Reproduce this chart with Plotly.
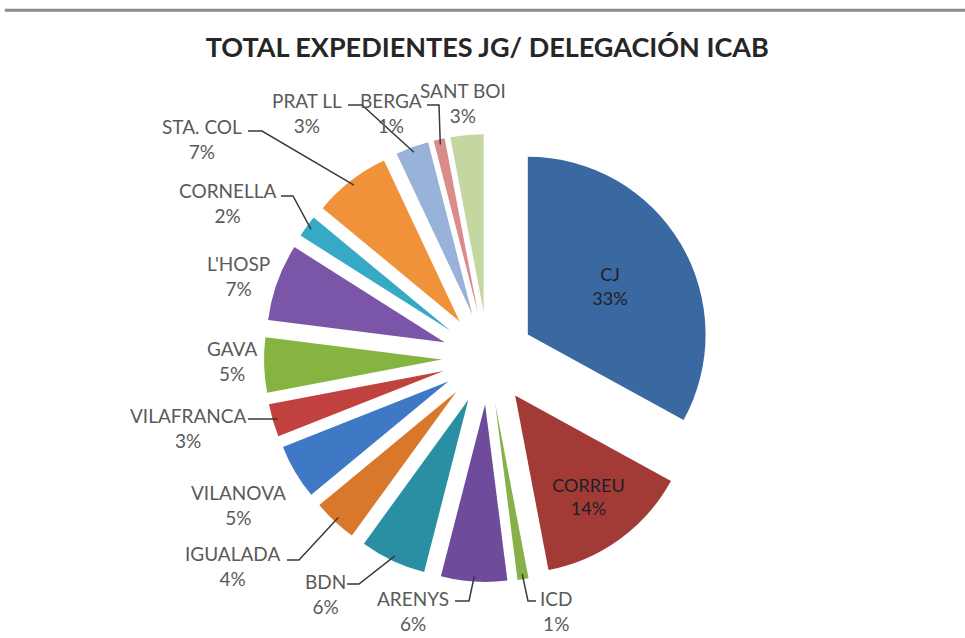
import math
import plotly.graph_objects as go

labels = ["CJ", "CORREU", "ICD", "ARENYS", "BDN", "IGUALADA", "VILANOVA",
          "VILAFRANCA", "GAVA", "L'HOSP", "CORNELLA", "STA. COL", "PRAT LL",
          "BERGA", "SANT BOI"]
values = [33, 14, 1, 6, 6, 4, 5, 3, 5, 7, 2, 7, 3, 1, 3]
colors = ["#3A68A0", "#A23B35", "#86B04A", "#6F4C9B", "#2B8FA3", "#D9782B",
          "#3F78C4", "#C0413D", "#86B441", "#7B55A7", "#36A9C4", "#F0923A",
          "#98B2D9", "#D98C8A", "#C4D7A0"]

W, H = 965, 638
PULL = 0.26
CX, CY, HALF = 488, 358, 224   # pie centre and half size of its domain, px

# outside label placement (px): text centre, leader start, elbow length
label_layout = {
    "ICD": ((556, 611), (536, 601, -8)),
    "ARENYS": ((413, 611), (455, 601, 14)),
    "BDN": ((325, 594), (347, 584, 12)),
    "IGUALADA": ((232, 566), (287, 560, 12)),
    "VILANOVA": ((238, 505), None),
    "VILAFRANCA": ((188, 428), (248, 419, 14)),
    "GAVA": ((232, 361), None),
    "L'HOSP": ((238, 276), None),
    "CORNELLA": ((228, 203), (281, 196, 12)),
    "STA. COL": ((202, 139), (248, 131, 14)),
    "PRAT LL": ((307, 113), (348, 105, 14)),
    "BERGA": ((391, 113), (427, 105, 12)),
    "SANT BOI": ((463, 103), None),
}

textpos = ["inside" if lab not in label_layout else "none" for lab in labels]

fig = go.Figure()
fig.add_trace(go.Pie(
    labels=labels,
    values=values,
    sort=False,
    direction="clockwise",
    rotation=0,
    pull=[PULL] * len(labels),
    marker=dict(colors=colors, line=dict(width=0)),
    texttemplate="%{label}<br>%{percent:.0%}",
    textposition=textpos,
    insidetextorientation="horizontal",
    insidetextfont=dict(color="#1e1e2a", size=18, family="Lato"),
    showlegend=False,
    automargin=False,
    hoverinfo="label+percent",
    domain=dict(x=[(CX - HALF) / W, (CX + HALF) / W],
                y=[1 - (CY + HALF) / H, 1 - (CY - HALF) / H]),
))


def px(x, y):
    return x / W, 1 - y / H


total = sum(values)
r = HALF / (1 + PULL)
annotations = []
shapes = [dict(type="line", xref="paper", yref="paper",
               x0=0.005, x1=1, y0=0.984, y1=0.984,
               line=dict(color="#8a8a8a", width=3))]
cum = 0
for lab, v in zip(labels, values):
    mid = 2 * math.pi * (cum + v / 2) / total
    cum += v
    if lab not in label_layout:
        continue
    (tx, ty), line = label_layout[lab]
    x, y = px(tx, ty)
    pct = round(100 * v / total)
    annotations.append(dict(
        x=x, y=y, xref="paper", yref="paper", showarrow=False,
        xanchor="center", yanchor="middle",
        text=f"{lab}<br>{pct}%", align="center",
        font=dict(family="Lato", size=19, color="#5a5a5a"),
    ))
    if line:
        sx, sy, dx = line
        ex = CX + r * (PULL + 0.97) * math.sin(mid)
        ey = CY - r * (PULL + 0.97) * math.cos(mid)
        p0, p1, p2 = px(sx, sy), px(sx + dx, sy), px(ex, ey)
        shapes.append(dict(
            type="path", xref="paper", yref="paper",
            path=f"M {p0[0]} {p0[1]} L {p1[0]} {p1[1]} L {p2[0]} {p2[1]}",
            line=dict(color="#3a3a3a", width=1.5),
        ))

fig.update_layout(
    title=dict(text="<b>TOTAL EXPEDIENTES JG/ DELEGACIÓN ICAB</b>",
               x=0.505, xanchor="center", y=0.925, yanchor="middle",
               font=dict(family="Lato", size=27, color="#262626")),
    width=W, height=H,
    margin=dict(l=0, r=0, t=0, b=0, autoexpand=False),
    paper_bgcolor="white",
    plot_bgcolor="white",
    annotations=annotations,
    shapes=shapes,
)

fig.write_html("out.html", config={"displayModeBar": False},
               post_script="document.body.style.margin='0';")
